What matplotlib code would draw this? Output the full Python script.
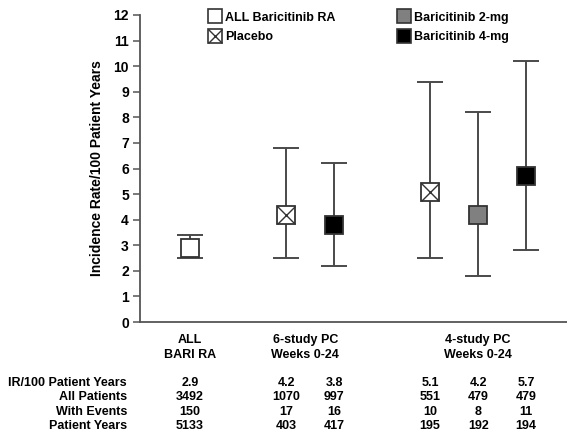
"""Incidence rate per 100 patient years, baricitinib RA studies."""

import matplotlib.pyplot as plt
from matplotlib.lines import Line2D
from matplotlib.transforms import blended_transform_factory

plt.rcParams["font.family"] = ["Liberation Sans", "DejaVu Sans"]
plt.rcParams["font.weight"] = "bold"
fs = 9

# x slots: ALL BARI RA | 6-study PC (placebo, 4-mg) | 4-study PC (placebo, 2-mg, 4-mg)
positions = [0, 2, 3, 5, 6, 7]
arms = ["all", "placebo", "bari4", "placebo", "bari2", "bari4"]
ir = [2.9, 4.2, 3.8, 5.1, 4.2, 5.7]
ci_low = [2.5, 2.5, 2.2, 2.5, 1.8, 2.8]
ci_high = [3.4, 6.8, 6.2, 9.4, 8.2, 10.2]

group_labels = ["ALL\nBARI RA", "6-study PC\nWeeks 0-24", "4-study PC\nWeeks 0-24"]
group_centers = [0, 2.4, 6]

row_labels = ["IR/100 Patient Years", "All Patients", "With Events", "Patient Years"]
all_patients = [3492, 1070, 997, 551, 479, 479]
with_events = [150, 17, 16, 10, 8, 11]
patient_years = [5133, 403, 417, 195, 192, 194]

fills = {"all": "white", "placebo": "white", "bari2": "#808080", "bari4": "black"}
edge = "#333333"
line_col = "#4a4a4a"

fig = plt.figure(figsize=(5.67, 4.33), dpi=100)
ax = fig.add_axes([140 / 567, 1 - 322 / 433, 1 - 140 / 567, 307 / 433])

for x, a, v, lo, hi in zip(positions, arms, ir, ci_low, ci_high):
    ax.errorbar(x, v, yerr=[[v - lo], [hi - v]], fmt="none", ecolor=line_col,
                elinewidth=1.4, capsize=9.5, capthick=1.4, zorder=2)
    ax.plot(x, v, marker="s", ms=13, mfc=fills[a], mec=edge, mew=1.3, zorder=3)
    if a == "placebo":
        ax.plot(x, v, marker="x", ms=13, mec=edge, mew=1.0, zorder=4)

ax.set_xlim(-1.04, 7.85)
ax.set_ylim(0, 12)
ax.set_yticks(range(0, 13), [str(i) for i in range(0, 13)], fontsize=10,
              fontweight="bold")
ax.set_xticks([])
for s in ["top", "right"]:
    ax.spines[s].set_visible(False)
for s in ["left", "bottom"]:
    ax.spines[s].set_color("#555555")
    ax.spines[s].set_linewidth(1.3)
ax.tick_params(axis="y", direction="out", length=5, width=1.1, color="#555555", pad=3)
ax.set_ylabel("Incidence Rate/100 Patient Years", fontsize=10, fontweight="bold",
              labelpad=7)

# legend in two columns
h_all = Line2D([], [], ls="none", marker="s", ms=10, mfc="white", mec=edge, mew=1.2)
h_pbo = (Line2D([], [], ls="none", marker="s", ms=10, mfc="white", mec=edge, mew=1.2),
         Line2D([], [], ls="none", marker="x", ms=10, mec=edge, mew=1.0))
h_b2 = Line2D([], [], ls="none", marker="s", ms=10, mfc="#808080", mec=edge, mew=1.2)
h_b4 = Line2D([], [], ls="none", marker="s", ms=10, mfc="black", mec=edge, mew=1.2)
leg_kw = dict(loc="upper left", bbox_transform=fig.transFigure, frameon=False,
              fontsize=fs, handlelength=0.8, handletextpad=0.45, labelspacing=0.6,
              borderpad=0.2)
leg1 = ax.legend([h_all, h_pbo], ["ALL Baricitinib RA", "Placebo"],
                 bbox_to_anchor=(201 / 567, 1 - 3 / 433), **leg_kw)
ax.add_artist(leg1)
ax.legend([h_b2, h_b4], ["Baricitinib 2-mg", "Baricitinib 4-mg"],
          bbox_to_anchor=(390 / 567, 1 - 3 / 433), **leg_kw)

# group labels under the axis
trans = ax.get_xaxis_transform()
for c, lab in zip(group_centers, group_labels):
    ax.text(c, -0.04, lab, transform=trans, ha="center", va="top", fontsize=fs,
            fontweight="bold", linespacing=1.25)

# data table
rows = [[f"{v:.1f}" for v in ir], all_patients, with_events, patient_years]
row_y = [383, 397, 412, 426]
tab_trans = blended_transform_factory(ax.transData, fig.transFigure)
for lab, vals, y in zip(row_labels, rows, row_y):
    yf = 1 - y / 433
    fig.text(127 / 567, yf, lab, ha="right", va="center", fontsize=fs, fontweight="bold")
    for x, v in zip(positions, vals):
        ax.text(x, yf, str(v), transform=tab_trans, ha="center", va="center",
                fontsize=fs, fontweight="bold")

fig.savefig("out.png", dpi=100)
